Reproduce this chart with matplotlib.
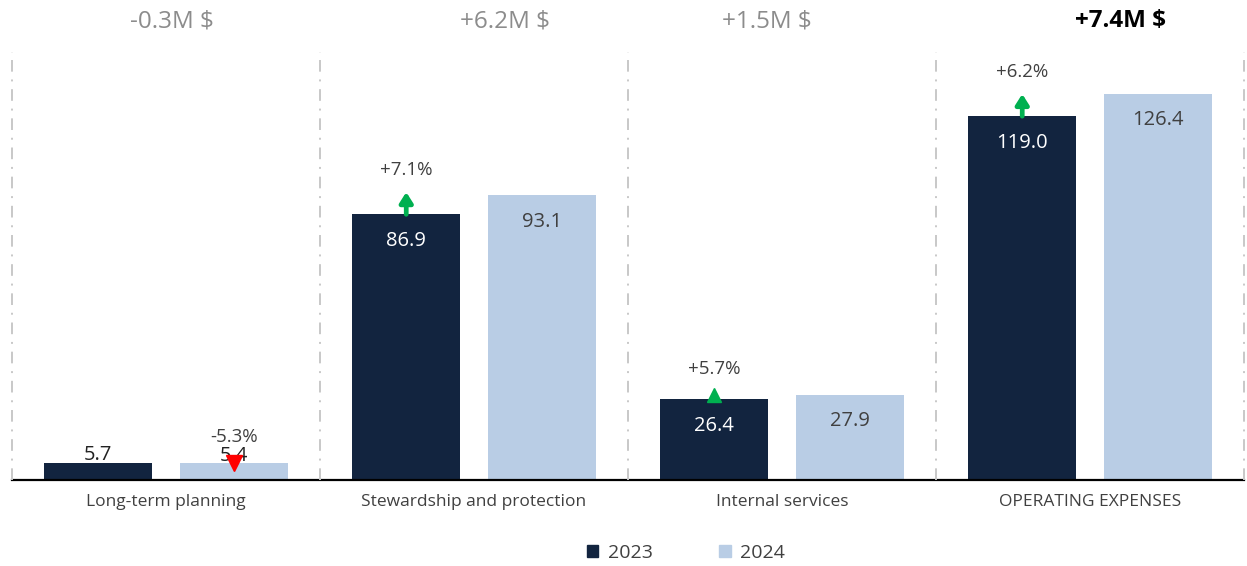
import matplotlib.pyplot as plt
import numpy as np
from matplotlib.patches import Patch

categories = ["Long-term planning", "Stewardship and protection", "Internal services", "OPERATING EXPENSES"]
values_2023 = [5.7, 86.9, 26.4, 119.0]
values_2024 = [5.4, 93.1, 27.9, 126.4]
pct_labels = ["-5.3%", "+7.1%", "+5.7%", "+6.2%"]
delta_labels = ["-0.3M $", "+6.2M $", "+1.5M $", "+7.4M $"]

DARK = "#12243f"
LIGHT = "#b9cde5"
GREEN = "#00b050"
RED = "#ff0000"
TEXT = "#404040"

plt.rcParams["font.family"] = ["Open Sans", "DejaVu Sans"]

fig = plt.figure(figsize=(12.47, 5.66), dpi=100)
ax = fig.add_axes([12 / 1247, 86 / 566, 1232 / 1247, 428 / 566])

x = np.arange(len(categories))
offset, width = 0.22, 0.35
ax.bar(x - offset, values_2023, width, color=DARK, label="2023")
ax.bar(x + offset, values_2024, width, color=LIGHT, label="2024")

ax.set_xlim(-0.5, 3.5)
ax.set_ylim(0, 140)
for side in ax.spines.values():
    side.set_visible(False)
ax.set_yticks([])
ax.set_xticks(x, categories, fontsize=12.5, color=TEXT)
ax.tick_params(axis="x", length=0, pad=10)
ax.axhline(0, color="black", lw=1.6, clip_on=False)

# dashed group dividers
for d in np.arange(-0.5, 4.0, 1.0):
    ax.axvline(d, color="#c8c8c8", lw=1.4, ls=(0, (6, 4, 1, 4)), clip_on=False)

# value labels
for xs, vals, col in [(x - offset, values_2023, "white"), (x + offset, values_2024, TEXT)]:
    for xi, v in zip(xs, vals):
        if v < 15:
            ax.annotate(f"{v:.1f}", (xi, v), xytext=(0, -2), textcoords="offset points",
                        ha="center", va="bottom", fontsize=14.5, color="#222222")
        else:
            ax.annotate(f"{v:.1f}", (xi, v), xytext=(0, -19), textcoords="offset points",
                        ha="center", va="center", fontsize=14.5, color=col)

# percent change labels with arrows
for i, lab in enumerate(pct_labels):
    down = lab.startswith("-")
    if down:
        xi, top = x[i] + offset, values_2024[i]
        ax.annotate(lab, (xi, top), xytext=(0, 19), textcoords="offset points",
                    ha="center", va="center", fontsize=13.5, color=TEXT)
        ax.plot(xi, top, marker="v", ms=11, color=RED, mec=RED, clip_on=False, zorder=5)
        continue
    xi, top = x[i] - offset, values_2023[i]
    if top > 50:
        ax.annotate(lab, (xi, top), xytext=(0, 32), textcoords="offset points",
                    ha="center", va="center", fontsize=13.5, color=TEXT)
        ax.annotate("", xy=(xi, top), xytext=(0, 16), textcoords="offset points",
                    arrowprops=dict(arrowstyle="<|-,head_length=0.6,head_width=0.38",
                                    color=GREEN, lw=3.4, shrinkA=0, shrinkB=0))
    else:
        ax.annotate(lab, (xi, top), xytext=(0, 22), textcoords="offset points",
                    ha="center", va="center", fontsize=13.5, color=TEXT)
        ax.plot(xi, top + 1.3, marker="^", ms=10, color=GREEN, zorder=5)

# net change headers
header_shift = [0.02, 0.1, -0.05, 0.1]
for i, lab in enumerate(delta_labels):
    last = i == len(delta_labels) - 1
    ax.annotate(lab, (x[i] + header_shift[i], 1.0), xycoords=ax.get_xaxis_transform(),
                xytext=(0, 22), textcoords="offset points",
                ha="center", va="center", fontsize=17.5,
                color="black" if last else "#8c8c8c",
                fontweight="bold" if last else "normal")

handles = [Patch(color=DARK, label="2023"), Patch(color=LIGHT, label="2024")]
fig.legend(handles=handles, loc="center", bbox_to_anchor=(686 / 1247, 1 - 553 / 566),
           ncol=2, frameon=False, fontsize=14, labelcolor=TEXT,
           handlelength=0.6, handleheight=0.6, handletextpad=0.5, columnspacing=3.4)

fig.savefig("out.png", dpi=100)
